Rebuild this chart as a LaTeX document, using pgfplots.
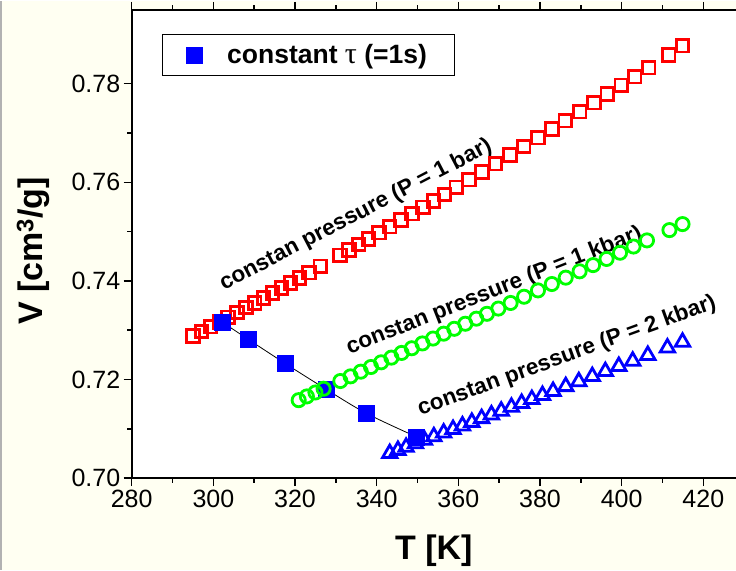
\documentclass[border=0pt]{standalone}
\usepackage{pgfplots}
\pgfplotsset{compat=1.18}
\usepackage{fontspec}
\setmainfont{Liberation Sans}
\newfontfamily\greekserif{Liberation Serif}
\definecolor{cream}{RGB}{255,255,242}
\definecolor{pRed}{RGB}{255,0,0}
\definecolor{pGreen}{RGB}{0,255,0}
\definecolor{pBlue}{RGB}{0,0,255}
\begin{document}
\begin{tikzpicture}[x=1pt,y=1pt]
\fill[cream] (0,0) rectangle (736,569);
\draw[gray!60, line width=1.5pt] (0.75,0) -- (0.75,569);
\useasboundingbox (0,0) rectangle (736,569);
\begin{axis}[
  at={(131.7pt,91.7pt)}, anchor=south west,
  scale only axis, width=604.3pt, height=468.3pt,
  xmin=280, xmax=428, ymin=0.70, ymax=0.795,
  axis x line*=box, axis y line*=left,
  axis line style={line width=1.8pt},
  axis background/.style={fill=white},
  xtick={280,300,...,420},
  ytick={0.70,0.72,0.74,0.76,0.78},
  minor x tick num=1, minor y tick num=1,
  tick align=outside,
  major tick length=8pt, minor tick length=4.5pt,
  every tick/.style={black, line width=1.5pt},
  /pgf/number format/assume math mode=true,
  yticklabel style={/pgf/number format/fixed, /pgf/number format/fixed zerofill, /pgf/number format/precision=2},
  xticklabel style={/pgf/number format/set thousands separator={}},
  tick label style={font=\fontsize{25}{28}\selectfont},
  xlabel={\textbf{T [K]}},
  ylabel={\textbf{V [cm\textsuperscript{3}/g]}},
  label style={font=\fontsize{34}{38}\selectfont},
  xlabel style={at={(axis description cs:0.5,-0.155)}, anchor=center},
  ylabel style={at={(axis description cs:-0.163,0.485)}, anchor=center, rotate=0},
  legend style={at={(axis description cs:0.0496,0.948)}, anchor=north west,
    draw=black, line width=1pt, fill=white,
    font=\fontsize{26.5}{30}\selectfont\bfseries,
    inner xsep=8pt, inner ysep=8pt},
  legend image code/.code={\path[draw=none, fill=none] (-24pt,0pt) -- (8pt,0pt); \draw[#1] plot coordinates {(0pt,0pt)};},
  legend cell align=left,
  clip=false,
]
% constant pressure 1 bar
\addplot[only marks, draw=pRed, mark=square, mark size=6.3pt, mark options={line width=2.8pt, fill=white}, forget plot] coordinates {
(295.0,0.72880)(297.1,0.72973)(299.3,0.73070)(301.5,0.73168)(303.6,0.73262)
(305.8,0.73360)(308.0,0.73460)(310.1,0.73555)(312.3,0.73654)(314.5,0.73755)
(316.7,0.73856)(318.9,0.73957)(321.1,0.74058)(323.4,0.74165)(326.2,0.74295)
(331.0,0.74520)(333.2,0.74624)(335.6,0.74738)(338.0,0.74852)(340.6,0.74976)
(343.2,0.75101)(346.0,0.75236)(348.6,0.75362)(351.3,0.75494)(353.9,0.75621)
(356.6,0.75754)(359.5,0.75897)(362.6,0.76051)(365.8,0.76210)(369.1,0.76376)
(372.6,0.76553)(376.0,0.76725)(379.5,0.76904)(382.9,0.77079)(386.2,0.77249)
(389.7,0.77431)(393.2,0.77614)(396.5,0.77787)(399.9,0.77966)(403.2,0.78142)
(406.6,0.78323)(411.5,0.78586)(414.9,0.78770)};
% constant tau
\addplot[only marks, mark=square*, mark size=8pt, draw=pBlue, fill=pBlue, mark options={line width=0.5pt}] coordinates {
(302.1,0.73167)(308.6,0.72811)(317.6,0.72324)(327.7,0.71797)(337.5,0.71311)(349.7,0.70837)};
\addlegendentry{\rule{23pt}{0pt}constant {\greekserif\mdseries\fontsize{30}{30}\selectfont τ} (=1s)\rule{18pt}{0pt}}
% constant pressure 1 kbar
\addplot[only marks, draw=pGreen, mark=o, mark size=6.6pt, mark options={line width=2.8pt, fill=white}, forget plot] coordinates {
(320.9,0.71580)(322.9,0.71656)(325.0,0.71736)(327.0,0.71812)(331.1,0.71968)
(333.6,0.72063)(336.1,0.72158)(338.6,0.72253)(341.1,0.72348)(343.6,0.72443)
(346.1,0.72538)(348.6,0.72633)(351.2,0.72731)(353.8,0.72830)(356.4,0.72929)
(359.0,0.73028)(361.7,0.73130)(364.4,0.73233)(367.0,0.73332)(369.8,0.73438)
(372.8,0.73552)(376.1,0.73678)(379.5,0.73807)(382.9,0.73936)(386.3,0.74065)
(389.7,0.74194)(393.0,0.74320)(396.3,0.74445)(399.6,0.74571)(402.9,0.74696)
(406.2,0.74821)(411.7,0.75030)(414.9,0.75152)};
% constant pressure 2 kbar
\addplot[only marks, draw=pBlue, mark=triangle, mark size=8.3pt, mark options={line width=2.8pt, fill=white}, forget plot] coordinates {
(343.2,0.70500)(345.2,0.70563)(347.2,0.70626)(349.5,0.70698)(351.7,0.70768)
(354.0,0.70840)(356.4,0.70916)(358.7,0.70988)(361.0,0.71061)(363.3,0.71133)
(365.7,0.71209)(368.1,0.71284)(370.5,0.71360)(373.0,0.71439)(375.5,0.71517)
(378.0,0.71596)(380.6,0.71678)(383.2,0.71760)(386.3,0.71858)(389.5,0.71958)
(392.8,0.72062)(396.0,0.72163)(399.3,0.72267)(402.7,0.72374)(406.4,0.72491)
(411.2,0.72642)(414.9,0.72759)};
% line through constant tau points
\addplot[black, line width=0.8pt, no marks, smooth, forget plot] coordinates {
(302.1,0.73167)(308.6,0.72811)(317.6,0.72324)(327.7,0.71797)(337.5,0.71311)(349.7,0.70837)};
\node[rotate=27.5, font=\fontsize{22.5}{24}\selectfont\bfseries] at (axis cs:334.9,0.7533) {constan pressure (P = 1 bar)};
\node[rotate=21.5, font=\fontsize{22.5}{24}\selectfont\bfseries] at (axis cs:368.8,0.7379) {constan pressure (P = 1 kbar)};
\node[rotate=20, font=\fontsize{22.5}{24}\selectfont\bfseries] at (axis cs:386.6,0.7247) {constan pressure (P = 2 kbar)};
\end{axis}
\end{tikzpicture}
\end{document}
